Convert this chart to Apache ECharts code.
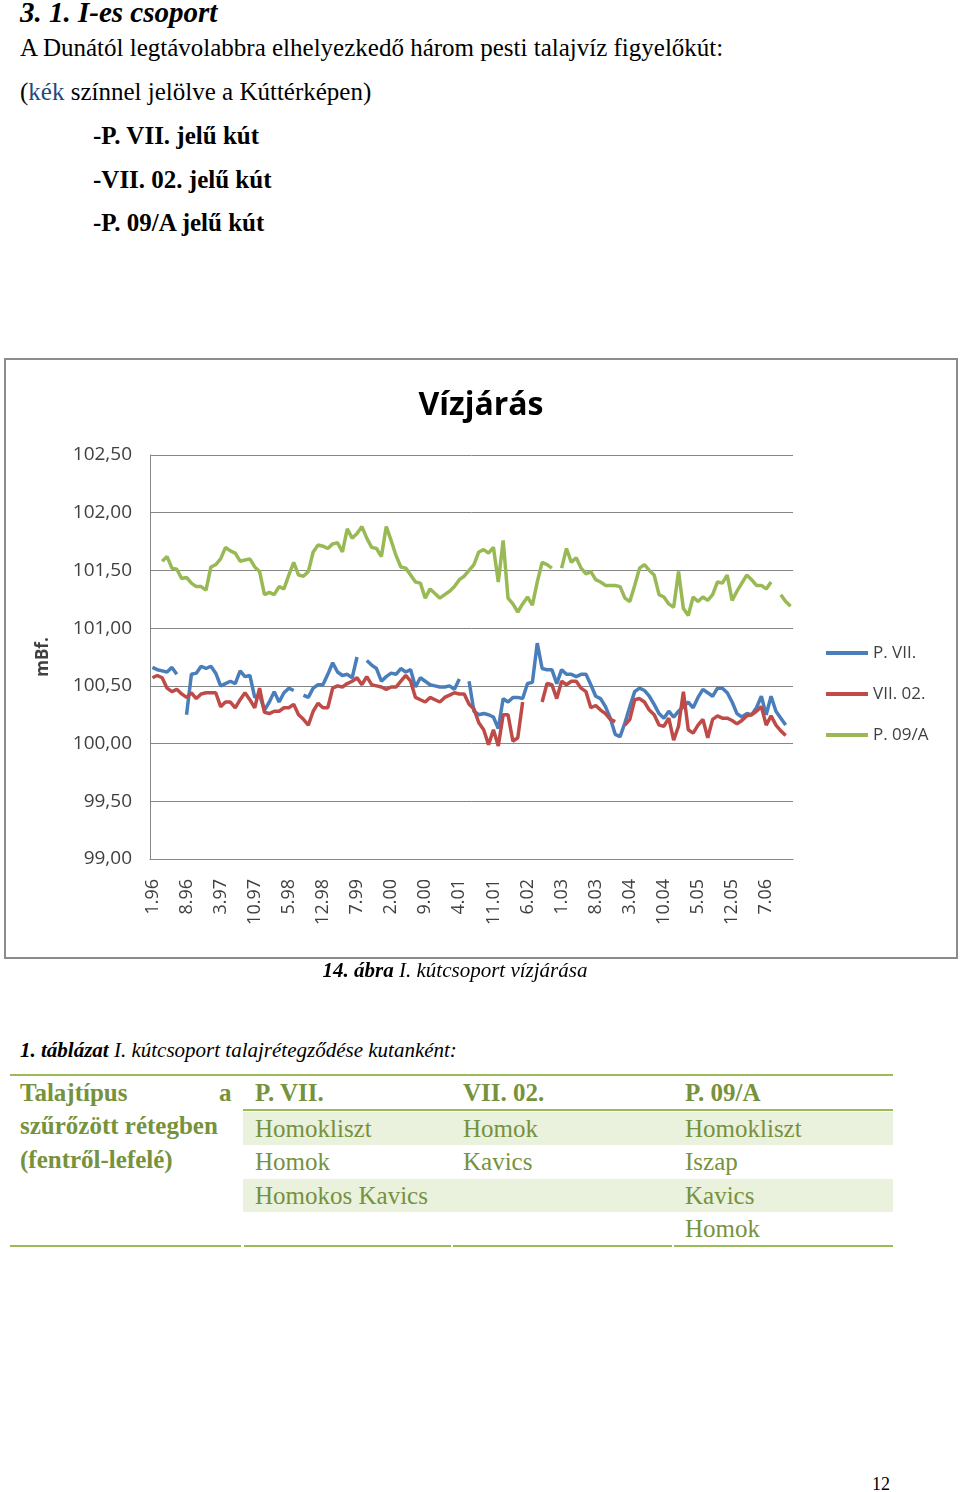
<!DOCTYPE html>
<html>
<head>
<meta charset="utf-8">
<script src="https://cdn.jsdelivr.net/npm/echarts@6/dist/echarts.min.js"></script>
<style>
  html, body { margin: 0; padding: 0; background: #fff; }
  body { width: 960px; height: 1492px; position: relative; overflow: hidden; font-family: "Liberation Serif", "Times New Roman", serif; color: #000; }
  .t { position: absolute; white-space: nowrap; line-height: 30px; }
  .body { font-size: 25px; }
  .bold { font-weight: bold; }
  .cell { position: absolute; white-space: nowrap; font-size: 25px; line-height: 33px; color: #76923C; }
  .shade { position: absolute; background: #EAF1DD; }
  .hline { position: absolute; background: #9BBB59; height: 2px; }
</style>
</head>
<body>
<div class="t" style="left:20px; top:-3px; font-size:29px; font-weight:bold; font-style:italic;">3. 1. I-es csoport</div>
<div class="t body" style="left:20px; top:33px;">A Dunától legtávolabbra elhelyezkedő három pesti talajvíz figyelőkút:</div>
<div class="t body" style="left:20px; top:77px;">(<span style="color:#1F497D">kék</span> színnel jelölve a Kúttérképen)</div>
<div class="t body bold" style="left:93px; top:121px;">-P. VII. jelű kút</div>
<div class="t body bold" style="left:93px; top:165px;">-VII. 02. jelű kút</div>
<div class="t body bold" style="left:93px; top:208px;">-P. 09/A jelű kút</div>

<div id="chart" style="position:absolute; left:4px; top:358px; width:954px; height:601px;"></div>
<div style="position:absolute; left:4px; top:358px; width:954px; height:601px; border:2px solid #8c8c8c; box-sizing:border-box; pointer-events:none;"></div>

<div class="t" style="left:0; width:910px; text-align:center; top:955px; font-size:21px; font-style:italic;"><b>14. ábra</b> I. kútcsoport vízjárása</div>
<div class="t" style="left:20px; top:1035px; font-size:21px; font-style:italic;"><b>1. táblázat</b> I. kútcsoport talajrétegződése kutanként:</div>

<!-- table -->
<div class="hline" style="left:10px; width:883px; top:1074px;"></div>
<div class="shade" style="left:243px; width:650px; top:1112px; height:33px;"></div>
<div class="shade" style="left:243px; width:650px; top:1179px; height:33px;"></div>
<div class="hline" style="left:243px; width:650px; top:1109px;"></div>
<div class="hline" style="left:10px; width:231px; top:1245px;"></div>
<div class="hline" style="left:244px; width:207px; top:1245px;"></div>
<div class="hline" style="left:453px; width:219px; top:1245px;"></div>
<div class="hline" style="left:674px; width:219px; top:1245px;"></div>

<div class="cell bold" style="left:20px; top:1076px;">Talajtípus</div>
<div class="cell bold" style="left:219px; top:1076px;">a</div>
<div class="cell bold" style="left:20px; top:1109px;">szűrőzött rétegben</div>
<div class="cell bold" style="left:20px; top:1143px;">(fentről-lefelé)</div>
<div class="cell bold" style="left:255px; top:1076px;">P. VII.</div>
<div class="cell bold" style="left:463px; top:1076px;">VII. 02.</div>
<div class="cell bold" style="left:685px; top:1076px;">P. 09/A</div>
<div class="cell" style="left:255px; top:1112px;">Homokliszt</div>
<div class="cell" style="left:463px; top:1112px;">Homok</div>
<div class="cell" style="left:685px; top:1112px;">Homokliszt</div>
<div class="cell" style="left:255px; top:1145px;">Homok</div>
<div class="cell" style="left:463px; top:1145px;">Kavics</div>
<div class="cell" style="left:685px; top:1145px;">Iszap</div>
<div class="cell" style="left:255px; top:1179px;">Homokos Kavics</div>
<div class="cell" style="left:685px; top:1179px;">Kavics</div>
<div class="cell" style="left:685px; top:1212px;">Homok</div>

<div class="t" style="left:872px; top:1469px; font-size:18px;">12</div>

<script>
// Month labels (m.yy), Jan 1996 – Dec 2006
const categories = [
  "1.96","2.96","3.96","4.96","5.96","6.96","7.96","8.96","9.96","10.96","11.96","12.96",
  "1.97","2.97","3.97","4.97","5.97","6.97","7.97","8.97","9.97","10.97","11.97","12.97",
  "1.98","2.98","3.98","4.98","5.98","6.98","7.98","8.98","9.98","10.98","11.98","12.98",
  "1.99","2.99","3.99","4.99","5.99","6.99","7.99","8.99","9.99","10.99","11.99","12.99",
  "1.00","2.00","3.00","4.00","5.00","6.00","7.00","8.00","9.00","10.00","11.00","12.00",
  "1.01","2.01","3.01","4.01","5.01","6.01","7.01","8.01","9.01","10.01","11.01","12.01",
  "1.02","2.02","3.02","4.02","5.02","6.02","7.02","8.02","9.02","10.02","11.02","12.02",
  "1.03","2.03","3.03","4.03","5.03","6.03","7.03","8.03","9.03","10.03","11.03","12.03",
  "1.04","2.04","3.04","4.04","5.04","6.04","7.04","8.04","9.04","10.04","11.04","12.04",
  "1.05","2.05","3.05","4.05","5.05","6.05","7.05","8.05","9.05","10.05","11.05","12.05",
  "1.06","2.06","3.06","4.06","5.06","6.06","7.06","8.06","9.06","10.06","11.06","12.06"
];

const seriesNames = ["P. VII.", "VII. 02.", "P. 09/A"];

const pVII = [
  100.66,100.64,100.63,100.62,100.66,100.60,null,100.25,100.60,100.61,100.67,100.65,
  100.67,100.61,100.50,100.52,100.54,100.52,100.63,100.58,100.59,100.40,100.42,100.29,
  100.36,100.45,100.36,100.44,100.48,100.46,null,100.42,100.40,100.48,100.51,100.51,
  100.60,100.70,100.62,100.59,100.60,100.57,100.75,null,100.72,100.68,100.65,100.54,
  100.58,100.61,100.60,100.65,100.62,100.64,100.49,100.57,100.54,100.51,100.50,100.49,
  100.49,100.50,100.47,100.56,null,100.54,100.28,100.25,100.26,100.25,100.23,100.13,
  100.39,100.36,100.40,100.40,100.39,100.52,100.53,100.87,100.65,100.64,100.64,100.52,
  100.64,100.60,100.60,100.58,100.60,100.60,100.51,100.41,100.39,100.32,100.22,100.08,
  100.06,100.18,100.32,100.45,100.48,100.46,100.41,100.34,100.26,100.22,100.28,100.23,
  100.28,100.32,100.36,100.31,100.40,100.47,100.44,100.41,100.48,100.48,100.44,100.36,
  100.26,100.23,100.26,100.25,100.31,100.41,100.25,100.41,100.28,100.22,100.16,null
];

const vII02 = [
  100.57,100.59,100.57,100.48,100.45,100.47,100.43,100.40,100.44,100.39,100.43,100.44,
  100.44,100.44,100.32,100.36,100.36,100.31,100.38,100.44,100.38,100.31,100.48,100.27,
  100.26,100.28,100.28,100.31,100.31,100.34,100.25,100.21,100.16,100.28,100.35,100.31,
  100.31,100.48,100.50,100.49,100.52,100.54,100.57,100.51,100.58,100.51,100.50,100.49,
  100.47,100.49,100.49,100.54,100.59,100.54,100.40,100.38,100.36,100.40,100.38,100.36,
  100.40,100.42,100.44,100.43,100.43,100.34,100.30,100.18,100.12,99.99,100.12,99.98,
  100.25,100.25,100.02,100.05,100.36,null,null,null,100.36,100.52,100.51,100.39,
  100.54,100.51,100.54,100.54,100.48,100.45,100.31,100.33,100.29,100.26,100.21,100.19,
  null,100.16,100.21,100.38,100.39,100.36,100.29,100.25,100.16,100.15,100.22,100.03,
  100.15,100.45,100.12,100.09,100.16,100.21,100.05,100.21,100.24,100.22,100.22,100.20,
  100.17,100.20,100.24,100.25,100.28,100.32,100.16,100.24,100.16,100.11,100.07,null
];

const p09A = [
  null,null,101.58,101.62,101.52,101.51,101.43,101.44,101.39,101.36,101.36,101.33,
  101.53,101.55,101.60,101.70,101.67,101.65,101.58,101.59,101.60,101.53,101.49,101.29,
  101.31,101.29,101.36,101.34,101.46,101.57,101.46,101.45,101.49,101.66,101.72,101.71,
  101.69,101.73,101.74,101.66,101.86,101.78,101.82,101.88,101.78,101.70,101.69,101.62,
  101.88,101.76,101.63,101.53,101.52,101.46,101.40,101.39,101.26,101.34,101.30,101.26,
  101.29,101.32,101.36,101.42,101.45,101.50,101.55,101.66,101.68,101.65,101.70,101.40,
  101.76,101.26,101.21,101.14,101.21,101.27,101.20,101.40,101.57,101.55,101.52,null,
  101.52,101.69,101.57,101.61,101.52,101.47,101.49,101.42,101.40,101.37,101.37,101.37,
  101.36,101.26,101.23,101.37,101.52,101.55,101.50,101.46,101.29,101.27,101.21,101.18,
  101.49,101.17,101.11,101.27,101.23,101.27,101.24,101.29,101.40,101.39,101.46,101.24,
  101.32,101.39,101.46,101.42,101.37,101.37,101.34,101.40,null,101.29,101.23,101.19
];

const colors = ["#4A7EBB", "#BE4B48", "#98B954"];
const dataSets = [pVII, vII02, p09A];

const chart = echarts.init(document.getElementById('chart'), null, { renderer: 'canvas' });
chart.setOption({
  animation: false,
  backgroundColor: '#fff',
  title: {
    text: 'Vízjárás',
    left: 'center',
    top: 27,
    textStyle: { fontFamily: 'Open Sans', fontSize: 32, fontWeight: 'bold', color: '#000' }
  },
  legend: {
    orient: 'vertical',
    left: 817,
    top: 280,
    itemWidth: 42,
    itemHeight: 4,
    itemGap: 21,
    icon: 'rect',
    data: seriesNames,
    textStyle: { fontFamily: 'Open Sans', fontSize: 17, color: '#404040', lineHeight: 20 }
  },
  grid: { left: 146, right: 165, top: 97, bottom: 100, containLabel: false },
  xAxis: {
    type: 'category',
    data: categories,
    boundaryGap: true,
    axisLine: { show: true, lineStyle: { color: '#868686', width: 1 } },
    axisTick: { show: false },
    axisLabel: {
      interval: 6,
      rotate: 90,
      margin: 20,
      fontFamily: 'Open Sans',
      fontSize: 18,
      color: '#404040'
    },
    splitLine: { show: false }
  },
  yAxis: {
    type: 'value',
    min: 99,
    max: 102.5,
    interval: 0.5,
    name: 'mBf.',
    nameLocation: 'middle',
    nameGap: 98,
    nameRotate: 90,
    nameTextStyle: { fontFamily: 'Open Sans', fontSize: 17, fontWeight: 'bold', color: '#404040' },
    axisLine: { show: true, lineStyle: { color: '#868686', width: 1 } },
    axisTick: { show: false },
    axisLabel: {
      margin: 18,
      fontFamily: 'Open Sans',
      fontSize: 19,
      color: '#404040',
      formatter: v => v.toFixed(2).replace('.', ',')
    },
    splitLine: { show: true, lineStyle: { color: '#868686', width: 1 } }
  },
  series: seriesNames.map((n, k) => ({
    name: n,
    type: 'line',
    data: dataSets[k],
    symbol: 'none',
    connectNulls: false,
    color: colors[k],
    lineStyle: { width: 3.5, color: colors[k] }
  }))
});
</script>
</body>
</html>
